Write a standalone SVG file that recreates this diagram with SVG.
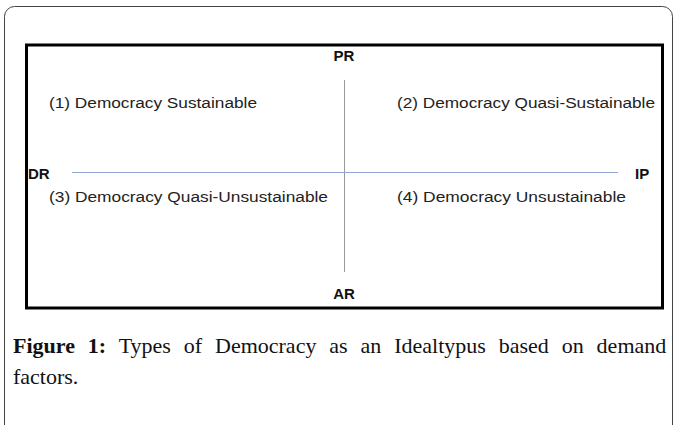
<svg xmlns="http://www.w3.org/2000/svg" width="677" height="425" viewBox="0 0 677 425">
<style>
.q{font-family:"Liberation Sans",Arial,sans-serif;font-size:15.5px;fill:#222}
.ax{font-family:"Liberation Sans",Arial,sans-serif;font-size:15px;font-weight:bold;fill:#111}
.cap{font-family:"Liberation Serif","Times New Roman",serif;font-size:22px;fill:#111}
</style>
<rect x="4.5" y="6.5" width="668" height="440" rx="10" fill="#fff" stroke="#444" stroke-width="1"/>
<rect id="frame" x="26.5" y="45" width="636" height="263" fill="none" stroke="#000" stroke-width="3"/>
<g id="connectors">
<line x1="344.5" y1="80" x2="344.5" y2="272" stroke="#999" stroke-width="1"/>
<line x1="72" y1="172.5" x2="618" y2="172.5" stroke="#8fa8d8" stroke-width="1"/>
</g>
<g id="PR"><text class="ax" x="344" y="61" text-anchor="middle">PR</text></g>
<g id="AR"><text class="ax" x="344" y="299" text-anchor="middle">AR</text></g>
<g id="DR"><text class="ax" x="28" y="179">DR</text></g>
<g id="IP"><text class="ax" x="635" y="179">IP</text></g>
<g id="q1"><text class="q" x="49" y="108" textLength="208" lengthAdjust="spacingAndGlyphs">(1) Democracy Sustainable</text></g>
<g id="q2"><text class="q" x="397" y="108" textLength="258" lengthAdjust="spacingAndGlyphs">(2) Democracy Quasi-Sustainable</text></g>
<g id="q3"><text class="q" x="49" y="202" textLength="279" lengthAdjust="spacingAndGlyphs">(3) Democracy Quasi-Unsustainable</text></g>
<g id="q4"><text class="q" x="397" y="202" textLength="229" lengthAdjust="spacingAndGlyphs">(4) Democracy Unsustainable</text></g>
<g id="caption">
<text class="cap" x="13" y="353" word-spacing="7.4"><tspan font-weight="bold">Figure 1:</tspan> Types of Democracy as an Idealtypus based on demand</text>
<text class="cap" x="13" y="384">factors.</text>
</g>
</svg>
